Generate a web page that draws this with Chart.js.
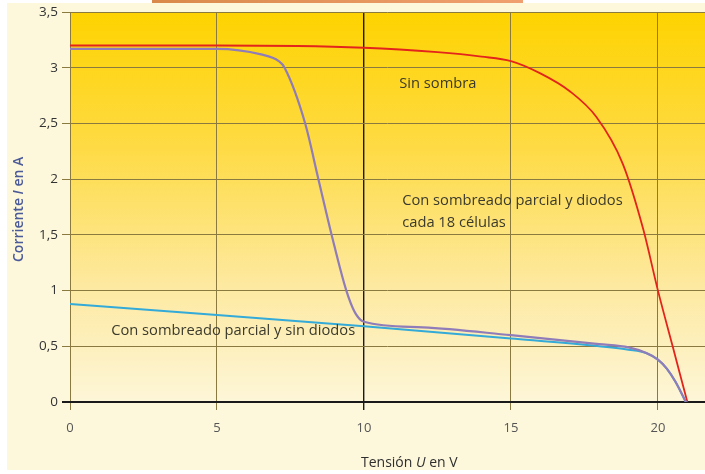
<!DOCTYPE html>
<html>
<head>
<meta charset="utf-8">
<script src="https://cdn.jsdelivr.net/npm/chart.js@4.4.1/dist/chart.umd.min.js"></script>
<style>
  html, body { margin: 0; padding: 0; background: #fff; }
  #wrap { width: 705px; height: 474px; }
</style>
</head>
<body>
<div id="wrap"><canvas id="graph"></canvas></div>
<script>
// values (U in V, I in A)
const sinSombraU = [0, 5, 10, 12.5, 14, 15, 16, 17, 17.9, 18.8, 19.5, 20, 20.5, 21.0];
const sinSombraI = [3.2, 3.2, 3.18, 3.14, 3.1, 3.06, 2.95, 2.79, 2.56, 2.14, 1.55, 1.0, 0.5, 0];

const diodosU = [0, 5, 6.5, 7.1, 7.3, 8.0, 8.45, 8.9, 9.4, 9.7, 10, 12, 15, 18, 19, 19.6, 20, 20.3, 20.6, 20.95];
const diodosI = [3.17, 3.17, 3.12, 3.06, 3.0, 2.5, 2.0, 1.5, 1.0, 0.8, 0.72, 0.67, 0.6, 0.52, 0.49, 0.44, 0.38, 0.3, 0.18, 0];

const sinDiodosU = [0, 5, 10, 15, 18, 19, 19.6, 20, 20.3, 20.6, 20.95];
const sinDiodosI = [0.88, 0.78, 0.68, 0.57, 0.5, 0.47, 0.44, 0.38, 0.3, 0.18, 0];

const xTicks = [0, 5, 10, 15, 20];
const yTicks = [0, 0.5, 1, 1.5, 2, 2.5, 3, 3.5];

const curveLabels = [
  { text: 'Sin sombra', u: 11.2, i: 2.86 },
  { text: 'Con sombreado parcial y diodos', u: 11.3, i: 1.81 },
  { text: 'cada 18 células', u: 11.3, i: 1.61 },
  { text: 'Con sombreado parcial y sin diodos', u: 1.4, i: 0.64 }
];

function toPoints(us, is) {
  return us.map((u, k) => ({ x: u, y: is[k] }));
}

const FONT = "'Open Sans', 'DejaVu Sans', sans-serif";

// page + plot background
const backdrop = {
  id: 'backdrop',
  beforeDraw(chart) {
    const c = chart.ctx;
    const a = chart.chartArea;
    c.save();
    c.fillStyle = '#fdf8dc';
    c.fillRect(7, 3, chart.width - 7, chart.height - 7);
    const strip = c.createLinearGradient(152, 0, 523, 0);
    strip.addColorStop(0, '#d98a4a');
    strip.addColorStop(1, '#f0a070');
    c.fillStyle = strip;
    c.fillRect(152, 0, 371, 3);
    const g = c.createLinearGradient(0, a.top, 0, a.bottom);
    g.addColorStop(0, '#fed300');
    g.addColorStop(0.35, '#fedb45');
    g.addColorStop(0.7, '#fde9a0');
    g.addColorStop(1, '#fdf6d8');
    c.fillStyle = g;
    c.fillRect(a.left, a.top, a.right - a.left, a.bottom - a.top);
    c.restore();
  }
};

// axis titles (with the italic symbol) and curve labels
const texts = {
  id: 'texts',
  afterDraw(chart) {
    const c = chart.ctx;
    const xs = chart.scales.x, ys = chart.scales.y;
    c.save();
    c.font = '14.7px ' + FONT;
    c.fillStyle = '#3b3a2c';
    c.textBaseline = 'middle';
    c.textAlign = 'left';
    curveLabels.forEach(l => {
      c.fillText(l.text, xs.getPixelForValue(l.u), ys.getPixelForValue(l.i));
    });

    // x title: Tensión U en V
    const parts = [['Tensión ', 'normal'], ['U', 'italic'], [' en V', 'normal']];
    let x = 361;
    parts.forEach(p => {
      c.font = p[1] + ' 14px ' + FONT;
      c.fillStyle = '#2e2e2e';
      c.fillText(p[0], x, 463);
      x += c.measureText(p[0]).width;
    });

    // y title: Corriente I en A
    c.translate(19, 262);
    c.rotate(-Math.PI / 2);
    const yparts = [['Corriente ', 'normal'], ['I', 'italic'], [' en A', 'normal']];
    let y = 0;
    yparts.forEach(p => {
      c.font = p[1] + ' 600 14px ' + FONT;
      c.fillStyle = '#4b5a98';
      c.fillText(p[0], y, 0);
      y += c.measureText(p[0]).width;
    });
    c.restore();
  }
};

function gridColor(ctx, special) {
  if (ctx.tick && ctx.tick.value === special) return '#1a1a1a';
  return '#8a7a40';
}

const chart = new Chart(document.getElementById('graph'), {
  type: 'scatter',
  data: {
    datasets: [
      {
        label: 'Con sombreado parcial y diodos',
        data: toPoints(diodosU, diodosI),
        borderColor: '#8f7cb8',
        borderWidth: 2.2,
        showLine: true,
        pointRadius: 0,
        cubicInterpolationMode: 'monotone'
      },
      {
        label: 'Con sombreado parcial y sin diodos',
        data: toPoints(sinDiodosU, sinDiodosI),
        borderColor: '#33aad8',
        borderWidth: 2,
        showLine: true,
        pointRadius: 0,
        cubicInterpolationMode: 'monotone'
      },
      {
        label: 'Sin sombra',
        data: toPoints(sinSombraU, sinSombraI),
        borderColor: '#e3241c',
        borderWidth: 1.8,
        showLine: true,
        pointRadius: 0,
        cubicInterpolationMode: 'monotone'
      }
    ]
  },
  options: {
    responsive: true,
    maintainAspectRatio: false,
    animation: false,
    layout: { padding: { left: 0, top: 10, right: 0, bottom: 0 } },
    plugins: {
      legend: { display: false },
      tooltip: { enabled: false }
    },
    scales: {
      x: {
        type: 'linear',
        min: 0,
        max: 21.6,
        afterBuildTicks: s => { s.ticks = xTicks.map(v => ({ value: v })); },
        afterFit: s => { s.height = 72; },
        border: { display: false },
        grid: {
          color: ctx => gridColor(ctx, 10),
          lineWidth: ctx => (ctx.tick && ctx.tick.value === 10 ? 1.4 : 1),
          tickLength: 8
        },
        ticks: {
          color: '#555',
          font: { family: FONT, size: 13 },
          padding: 10
        }
      },
      y: {
        type: 'linear',
        min: 0,
        max: 3.5,
        afterBuildTicks: s => { s.ticks = yTicks.map(v => ({ value: v })); },
        afterFit: s => { s.width = 70; },
        border: { display: false },
        grid: {
          color: ctx => gridColor(ctx, 0),
          lineWidth: ctx => (ctx.tick && ctx.tick.value === 0 ? 2 : 1),
          tickLength: 8
        },
        ticks: {
          color: '#333',
          font: { family: FONT, size: 13.5 },
          padding: 4,
          callback: v => String(v).replace('.', ',')
        }
      }
    }
  },
  plugins: [backdrop, texts]
});
</script>
</body>
</html>
